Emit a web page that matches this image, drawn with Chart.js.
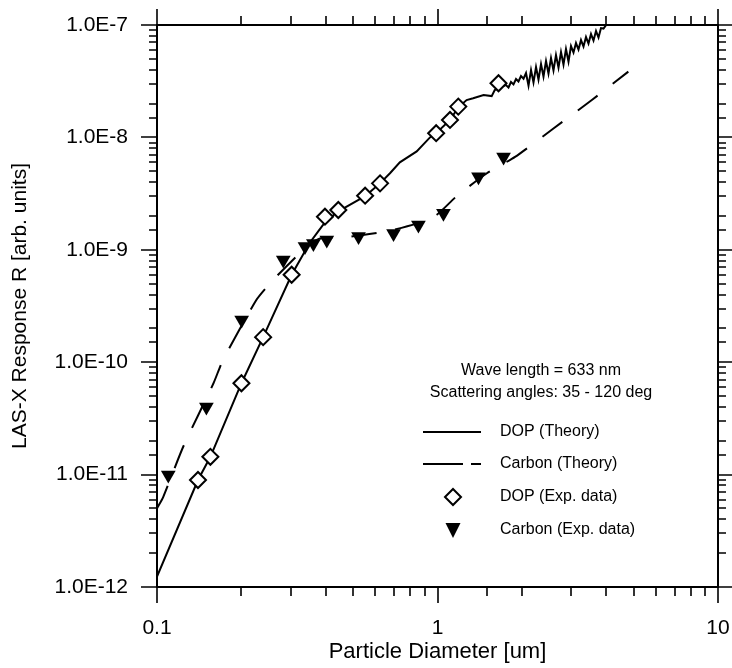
<!DOCTYPE html>
<html><head><meta charset="utf-8">
<script src="https://cdn.jsdelivr.net/npm/chart.js@4/dist/chart.umd.min.js"></script>
<style>html,body{margin:0;padding:0;background:#fff;} #wrap{width:732px;height:668px;position:relative;}</style>
</head><body><div id="wrap"><canvas id="c" width="732" height="668"></canvas></div>
<script>
// ---- data ----
const dopTheoryX = [0.1, 0.14, 0.155, 0.2, 0.239, 0.302, 0.35, 0.375, 0.40, 0.443, 0.552, 0.624, 0.677, 0.734, 0.843, 0.94, 0.989, 1.108, 1.186, 1.27, 1.34, 1.46, 1.56, 1.60, 1.69,
  1.754,1.791,1.828,1.866,1.905,1.944,1.985,2.026,2.068,2.111,2.155,2.199,2.245,2.291,2.339,2.387,2.437,2.487,2.539,2.591,2.645,2.700,2.756,2.813,2.871,2.931,2.992,3.054,3.117,3.182,3.248,3.315,3.384,3.454,3.526,3.599,3.674,3.750,3.827,3.907,3.988,4.1];
const dopTheoryY = [1.24e-12, 8.95e-12, 1.44e-11, 6.5e-11, 1.67e-10, 6.0e-10, 1.15e-9, 1.45e-9, 1.8e-9, 2.2e-9, 3.0e-9, 3.9e-9, 4.8e-9, 6.0e-9, 7.5e-9, 1.0e-8, 1.09e-8, 1.43e-8, 1.85e-8, 2.15e-8, 2.23e-8, 2.38e-8, 2.33e-8, 2.64e-8, 2.83e-8,
  2.92e-8,2.78e-8,3.11e-8,2.96e-8,3.31e-8,3.14e-8,3.51e-8,3.33e-8,3.74e-8,2.89e-8,3.97e-8,3.08e-8,4.22e-8,3.27e-8,4.49e-8,3.48e-8,4.78e-8,3.70e-8,5.08e-8,3.94e-8,5.40e-8,4.18e-8,5.74e-8,4.45e-8,6.11e-8,4.73e-8,6.49e-8,5.69e-8,6.91e-8,6.04e-8,7.34e-8,6.43e-8,7.81e-8,6.83e-8,8.30e-8,7.27e-8,8.83e-8,7.73e-8,9.39e-8,9.29e-8,9.98e-8,1.05e-7];

const carbonTheoryX = [0.1, 0.1053, 0.124, 0.159, 0.172, 0.226, 0.256, 0.30, 0.345, 0.381, 0.487, 0.677, 0.843, 0.994, 1.17, 1.50, 1.89, 2.59, 3.55, 4.79];
const carbonTheoryY = [5.0e-12, 6.35e-12, 1.77e-11, 6.5e-11, 1.05e-10, 3.57e-10, 5.2e-10, 7.8e-10, 1.08e-9, 1.26e-9, 1.31e-9, 1.48e-9, 1.72e-9, 2.05e-9, 3.0e-9, 4.8e-9, 6.7e-9, 1.2e-8, 2.15e-8, 3.85e-8];

const dopExpX = [0.140, 0.155, 0.200, 0.239, 0.302, 0.397, 0.443, 0.552, 0.624, 0.989, 1.108, 1.186, 1.65];
const dopExpY = [8.95e-12, 1.44e-11, 6.5e-11, 1.67e-10, 6.0e-10, 1.97e-9, 2.26e-9, 3.03e-9, 3.9e-9, 1.09e-8, 1.43e-8, 1.88e-8, 3.03e-8];

const carbonExpX = [0.1097, 0.150, 0.2004, 0.282, 0.337, 0.361, 0.403, 0.523, 0.697, 0.855, 1.05, 1.40, 1.72];
const carbonExpY = [9.9e-12, 4.0e-11, 2.37e-10, 8.1e-10, 1.07e-9, 1.14e-9, 1.22e-9, 1.31e-9, 1.4e-9, 1.66e-9, 2.11e-9, 4.47e-9, 6.7e-9];

const xTickValues = [0.1, 1, 10];
const xTickLabels = ['0.1', '1', '10'];
const yTickValues = [1e-12, 1e-11, 1e-10, 1e-9, 1e-8, 1e-7];
const yTickLabels = ['1.0E-12', '1.0E-11', '1.0E-10', '1.0E-9', '1.0E-8', '1.0E-7'];

const legendHeader = ['Wave length = 633 nm', 'Scattering angles: 35 - 120 deg'];
const legendLabels = ['DOP (Theory)', 'Carbon (Theory)', 'DOP (Exp. data)', 'Carbon (Exp. data)'];

// ---- helpers ----
const FONT = "'Liberation Sans', Arial, Helvetica, sans-serif";
const pts = (xs, ys) => xs.map((v, i) => ({x: v, y: ys[i]}));
function labelFor(values, labels, v) {
  for (let i = 0; i < values.length; i++) {
    if (Math.abs(Math.log10(v) - Math.log10(values[i])) < 1e-6) return labels[i];
  }
  return '';
}
const isMajor = v => Math.abs(Math.log10(v) - Math.round(Math.log10(v))) < 1e-6;

const frameTicks = {
  id: 'frameTicks',
  afterDraw(chart) {
    const {ctx, chartArea: a, scales: {x, y}} = chart;
    ctx.save();
    ctx.strokeStyle = '#000';
    ctx.lineWidth = 2;
    ctx.strokeRect(a.left, a.top, a.right - a.left, a.bottom - a.top);
    ctx.lineWidth = 1.6;
    ctx.beginPath();
    x.ticks.forEach(t => {
      const px = Math.round(x.getPixelForValue(t.value));
      const L = isMajor(t.value) ? 16 : 9;
      ctx.moveTo(px, a.bottom); ctx.lineTo(px, a.bottom + L);
      ctx.moveTo(px, a.top); ctx.lineTo(px, a.top - L);
    });
    y.ticks.forEach(t => {
      const py = Math.round(y.getPixelForValue(t.value));
      const L = isMajor(t.value) ? 16 : 8;
      ctx.moveTo(a.left, py); ctx.lineTo(a.left - L, py);
      ctx.moveTo(a.right, py); ctx.lineTo(a.right + L, py);
    });
    ctx.stroke();

    // legend / annotation
    ctx.fillStyle = '#000';
    ctx.font = '16px ' + FONT;
    ctx.textAlign = 'center';
    ctx.textBaseline = 'middle';
    ctx.fillText(legendHeader[0], 541, 371);
    ctx.fillText(legendHeader[1], 541, 393);
    ctx.textAlign = 'left';
    const rows = [432, 464, 497, 530];
    const tx = 500;
    legendLabels.forEach((l, i) => ctx.fillText(l, tx, rows[i]));
    ctx.lineWidth = 2;
    ctx.setLineDash([]);
    ctx.beginPath(); ctx.moveTo(423, rows[0]); ctx.lineTo(481, rows[0]); ctx.stroke();
    ctx.beginPath(); ctx.moveTo(423, rows[1]); ctx.lineTo(463, rows[1]);
    ctx.moveTo(471, rows[1]); ctx.lineTo(481, rows[1]); ctx.stroke();
    // diamond
    const dx = 453, r = 8;
    ctx.beginPath();
    ctx.moveTo(dx - r, rows[2]); ctx.lineTo(dx, rows[2] - r); ctx.lineTo(dx + r, rows[2]); ctx.lineTo(dx, rows[2] + r); ctx.closePath();
    ctx.fillStyle = '#fff'; ctx.fill(); ctx.stroke();
    // triangle
    ctx.fillStyle = '#000';
    ctx.beginPath();
    ctx.moveTo(dx - 7.5, rows[3] - 7); ctx.lineTo(dx + 7.5, rows[3] - 7); ctx.lineTo(dx, rows[3] + 8); ctx.closePath();
    ctx.fill();
    ctx.restore();
  }
};

new Chart(document.getElementById('c'), {
  type: 'scatter',
  data: {
    datasets: [
      {label: legendLabels[2], data: pts(dopExpX, dopExpY), pointStyle: 'rectRot', pointRadius: 8, pointBorderWidth: 2,
       pointBackgroundColor: '#fff', pointBorderColor: '#000', showLine: false, order: 0},
      {label: legendLabels[3], data: pts(carbonExpX, carbonExpY), pointStyle: 'triangle', rotation: 180, pointRadius: 8.5, pointBorderWidth: 0,
       pointBackgroundColor: '#000', pointBorderColor: '#000', showLine: false, order: 0},
      {label: legendLabels[0], data: pts(dopTheoryX, dopTheoryY), showLine: true, borderColor: '#000', borderWidth: 2,
       pointRadius: 0, tension: 0, clip: 0, order: 1},
      {label: legendLabels[1], data: pts(carbonTheoryX, carbonTheoryY), showLine: true, borderColor: '#000', borderWidth: 2,
       borderDash: [25, 19], pointRadius: 0, tension: 0.2, clip: 0, order: 1}
    ]
  },
  options: {
    responsive: false,
    animation: false,
    layout: {padding: {top: 25, right: 14, left: 0, bottom: 0}},
    plugins: {legend: {display: false}, tooltip: {enabled: false}},
    scales: {
      x: {
        type: 'logarithmic', min: 0.1, max: 10, position: 'bottom',
        grid: {display: false, drawTicks: false}, border: {display: false},
        ticks: {autoSkip: false, maxRotation: 0, color: '#000', padding: 29,
          font: {size: 21, family: FONT},
          callback: v => labelFor(xTickValues, xTickLabels, v)},
        title: {display: true, text: 'Particle Diameter [um]', color: '#000', font: {size: 22, family: FONT}, padding: {top: 0, bottom: 3}},
        afterFit: s => { s.height = 81; s.paddingLeft = 0; s.paddingRight = 0; }
      },
      y: {
        type: 'logarithmic', min: 1e-12, max: 1e-7, position: 'left',
        grid: {display: false, drawTicks: false}, border: {display: false},
        ticks: {autoSkip: false, color: '#000', padding: 29,
          font: {size: 21, family: FONT},
          callback: v => labelFor(yTickValues, yTickLabels, v)},
        title: {display: true, text: 'LAS-X Response R [arb. units]', color: '#000', font: {size: 21, family: FONT}, padding: {top: 8, bottom: 4}},
        afterFit: s => { s.width = 157; s.paddingTop = 0; s.paddingBottom = 0; }
      }
    }
  },
  plugins: [frameTicks]
});
</script>
</body></html>
